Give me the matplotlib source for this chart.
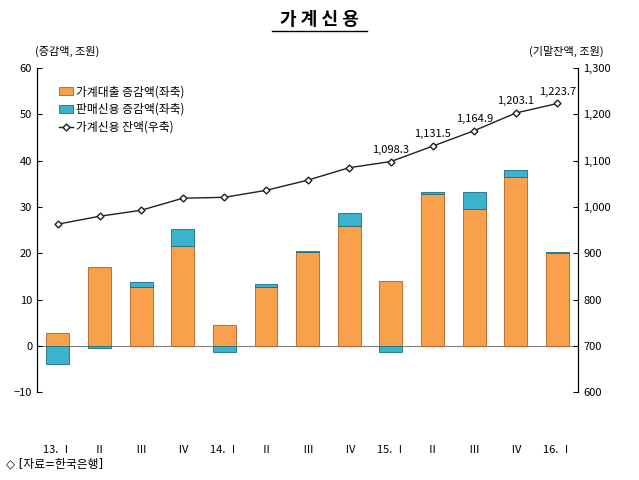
import numpy as np
import matplotlib
matplotlib.use("Agg")
import matplotlib.pyplot as plt

plt.rcParams['font.family'] = ['Noto Sans CJK KR', 'DejaVu Sans']

quarters = ["13. Ⅰ", "Ⅱ", "Ⅲ", "Ⅳ", "14. Ⅰ", "Ⅱ", "Ⅲ", "Ⅳ", "15. Ⅰ", "Ⅱ", "Ⅲ", "Ⅳ", "16. Ⅰ"]
loan_change = [2.8, 17.0, 12.7, 21.5, 4.5, 12.7, 20.3, 26.0, 14.0, 32.8, 29.5, 36.5, 20.0]
sales_change = [-3.9, -0.4, 1.0, 3.8, -1.3, 0.6, 0.2, 2.6, -1.3, 0.4, 3.7, 1.5, 0.3]
balance = [963, 980, 993, 1019, 1021, 1036, 1058, 1085, 1098.3, 1131.5, 1164.9, 1203.1, 1223.7]
labeled = {8: "1,098.3", 9: "1,131.5", 10: "1,164.9", 11: "1,203.1", 12: "1,223.7"}

fig = plt.figure(figsize=(6.39, 4.8), dpi=100)
ax = fig.add_axes([0.058, 0.183, 0.847, 0.675])
x = np.arange(len(quarters))
w = 0.55

ax.bar(x, loan_change, w, color="#F8A04C", edgecolor="#B06020", linewidth=0.6, zorder=2,
       label="가계대출 증감액(좌축)")
bottoms = [l if s > 0 else 0 for l, s in zip(loan_change, sales_change)]
ax.bar(x, sales_change, w, bottom=bottoms, color="#3BB3CC", edgecolor="#1A6C80", linewidth=0.6,
       zorder=2, label="판매신용 증감액(좌축)")
ax.axhline(0, color="#808080", lw=0.8, zorder=1)
ax.set_ylim(-10, 60)
ax.set_yticks(range(-10, 61, 10))
ax.set_xlim(-0.5, len(quarters) - 0.5)
ax.set_xticks(x)
ax.set_xticklabels(quarters, fontsize=8)
ax.tick_params(axis='x', length=0, pad=38)
ax.tick_params(axis='y', labelsize=8, direction='in')
for s in ["top", "bottom"]:
    ax.spines[s].set_visible(False)

ax2 = ax.twinx()
ax2.plot(x, balance, color="#202020", lw=1, marker="D", markersize=3.5,
         markerfacecolor="white", markeredgecolor="#202020", label="가계신용 잔액(우축)")
for i, t in labeled.items():
    ax2.text(i, balance[i] + 15, t, ha="center", va="bottom", fontsize=8)
ax2.set_ylim(600, 1300)
ax2.set_yticks(range(600, 1301, 100))
ax2.set_yticklabels([f"{v:,}" for v in range(600, 1301, 100)])
ax2.tick_params(axis='y', labelsize=8, direction='in')
for s in ["top", "bottom"]:
    ax2.spines[s].set_visible(False)

h1, l1 = ax.get_legend_handles_labels()
h2, l2 = ax2.get_legend_handles_labels()
ax.legend(h1 + h2, l1 + l2, loc="upper left", bbox_to_anchor=(0.02, 0.98), frameon=False,
          fontsize=8.5, handlelength=1.2, handletextpad=0.3, labelspacing=0.4)

fig.text(0.5, 0.96, "가 계 신 용", ha="center", va="center", fontsize=13, fontweight="bold")
fig.add_artist(plt.Line2D([0.425, 0.575], [0.935, 0.935], color="black", lw=1))
fig.text(0.055, 0.885, "(증감액, 조원)", fontsize=8, ha="left")
fig.text(0.945, 0.885, "(기말잔액, 조원)", fontsize=8, ha="right")
fig.text(0.01, 0.025, "◇ [자료=한국은행]", fontsize=8.5, family=['DejaVu Sans', 'Noto Sans CJK KR'])

fig.savefig("out.png", dpi=100)
